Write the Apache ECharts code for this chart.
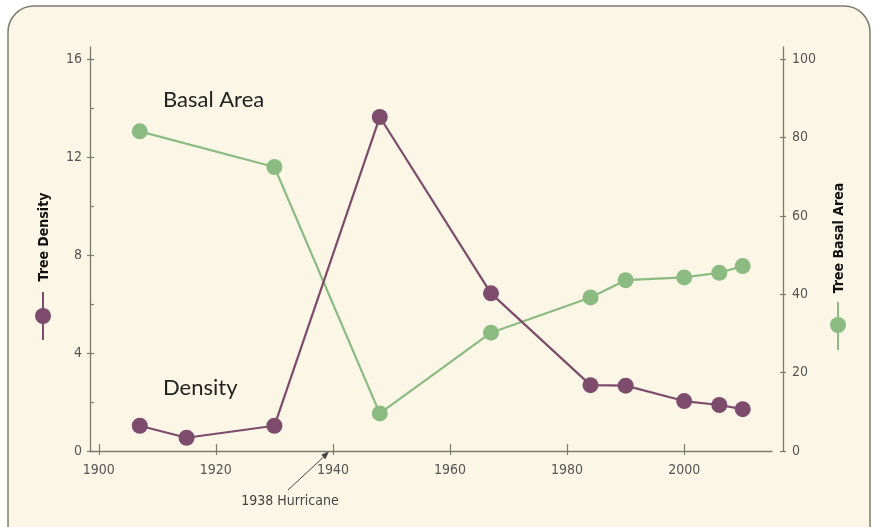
<!DOCTYPE html>
<html>
<head>
<meta charset="utf-8">
<script src="https://cdn.jsdelivr.net/npm/echarts@6/dist/echarts.min.js"></script>
<style>
html,body{margin:0;padding:0;background:#ffffff;}
#chart{width:875px;height:527px;}
</style>
</head>
<body>
<div id="chart"></div>
<script>
// Data
const densityYears = [1907, 1915, 1930, 1948, 1967, 1984, 1990, 2000, 2006, 2010];
const densityValues = [1.03, 0.54, 1.03, 13.64, 6.44, 2.69, 2.67, 2.04, 1.88, 1.71];
const basalYears = [1907, 1930, 1948, 1967, 1984, 1990, 2000, 2006, 2010];
const basalValues = [81.6, 72.5, 9.6, 30.2, 39.2, 43.6, 44.3, 45.5, 47.2];
const xTicks = [1900, 1920, 1940, 1960, 1980, 2000];
const leftTicks = [0, 4, 8, 12, 16];
const leftMinorTicks = [0, 2, 4, 6, 8, 10, 12, 14, 16];
const rightTicks = [0, 20, 40, 60, 80, 100];

const PURPLE = '#7d4b6b';
const GREEN = '#8bbb81';
const AXIS = '#7b7b6c';
const LABEL = '#555555';
const NARROW = '"Liberation Sans Narrow", "DejaVu Sans Condensed", "Roboto Condensed", sans-serif';
const REG = 'Lato, "Open Sans", sans-serif';

const chart = echarts.init(document.getElementById('chart'));

const lbl = {color: LABEL, fontFamily: NARROW, fontSize: 14, formatter: v => String(v)};

const option = {
  backgroundColor: '#ffffff',
  animation: false,
  grid: {left: 90, right: 103, top: 47, bottom: 76, containLabel: false},
  xAxis: [
    {
      type: 'value', min: 1898.5, max: 2015, position: 'bottom',
      axisLine: {show: true, lineStyle: {color: AXIS, width: 1.3}},
      axisTick: {show: true, inside: false, length: 4, customValues: xTicks, lineStyle: {color: AXIS, width: 1.2}},
      axisLabel: Object.assign({margin: 12, customValues: xTicks}, lbl),
      splitLine: {show: false}
    },
    {
      type: 'value', min: 1898.5, max: 2015, position: 'bottom',
      axisLine: {show: false},
      axisTick: {show: true, inside: true, length: 7, customValues: xTicks, lineStyle: {color: AXIS, width: 1.2}},
      axisLabel: {show: false},
      splitLine: {show: false}
    }
  ],
  yAxis: [
    {
      type: 'value', min: 0, max: 16.5, position: 'left',
      axisLine: {show: true, lineStyle: {color: AXIS, width: 1.3}},
      axisTick: {show: true, inside: false, length: 3, customValues: leftTicks, lineStyle: {color: AXIS, width: 1.2}},
      axisLabel: Object.assign({margin: 8, customValues: leftTicks}, lbl),
      splitLine: {show: false}
    },
    {
      type: 'value', min: 0, max: 103.125, position: 'right', offset: 11,
      axisLine: {show: true, lineStyle: {color: AXIS, width: 1.3}},
      axisTick: {show: true, inside: false, length: 3, customValues: rightTicks, lineStyle: {color: AXIS, width: 1.2}},
      axisLabel: Object.assign({margin: 9, customValues: rightTicks}, lbl),
      splitLine: {show: false}
    },
    {
      type: 'value', min: 0, max: 16.5, position: 'left',
      axisLine: {show: false},
      axisTick: {show: true, inside: true, length: 4, customValues: leftMinorTicks, lineStyle: {color: AXIS, width: 1.2}},
      axisLabel: {show: false},
      splitLine: {show: false}
    },
    {
      type: 'value', min: 0, max: 103.125, position: 'right', offset: 11,
      axisLine: {show: false},
      axisTick: {show: true, inside: true, length: 3, customValues: rightTicks, lineStyle: {color: AXIS, width: 1.2}},
      axisLabel: {show: false},
      splitLine: {show: false}
    }
  ],
  series: [
    {
      name: 'Basal Area', type: 'line', xAxisIndex: 0, yAxisIndex: 1,
      data: basalYears.map((y, i) => [y, basalValues[i]]),
      symbol: 'circle', symbolSize: 16,
      lineStyle: {color: GREEN, width: 2.2},
      itemStyle: {color: GREEN},
      z: 3
    },
    {
      name: 'Density', type: 'line', xAxisIndex: 0, yAxisIndex: 0,
      data: densityYears.map((y, i) => [y, densityValues[i]]),
      symbol: 'circle', symbolSize: 16,
      lineStyle: {color: PURPLE, width: 2.2},
      itemStyle: {color: PURPLE},
      z: 4
    }
  ],
  graphic: [
    {type: 'rect', z: -100, silent: true,
     shape: {x: 8, y: 6, width: 862, height: 570, r: 26},
     style: {fill: '#fcf6e6', stroke: '#7e7e70', lineWidth: 1.5}},
    {type: 'text', x: 163, y: 100, style: {text: 'Basal Area', fill: '#222222', font: '22px ' + REG, textAlign: 'left', textVerticalAlign: 'middle'}},
    {type: 'text', x: 163, y: 388, style: {text: 'Density', fill: '#222222', font: '22px ' + REG, textAlign: 'left', textVerticalAlign: 'middle'}},
    {type: 'text', x: 44, y: 237, rotation: Math.PI / 2,
     style: {text: 'Tree Density', fill: '#111111', font: 'bold 14px ' + NARROW, textAlign: 'center', textVerticalAlign: 'middle'}},
    {type: 'line', shape: {x1: 43, y1: 292, x2: 43, y2: 340}, style: {stroke: PURPLE, lineWidth: 2}},
    {type: 'circle', shape: {cx: 43, cy: 316, r: 8}, style: {fill: PURPLE}},
    {type: 'text', x: 839, y: 238, rotation: Math.PI / 2,
     style: {text: 'Tree Basal Area', fill: '#111111', font: 'bold 14px ' + NARROW, textAlign: 'center', textVerticalAlign: 'middle'}},
    {type: 'line', shape: {x1: 838, y1: 302, x2: 838, y2: 350}, style: {stroke: GREEN, lineWidth: 2}},
    {type: 'circle', shape: {cx: 838, cy: 325, r: 8}, style: {fill: GREEN}},
    {type: 'line', shape: {x1: 288, y1: 490, x2: 325, y2: 455.7}, style: {stroke: '#444444', lineWidth: 1}},
    {type: 'polygon', shape: {points: [[329.3, 451], [325.3, 459.2], [321.3, 454.8]]}, style: {fill: '#444444'}},
    {type: 'text', x: 290, y: 501, style: {text: '1938 Hurricane', fill: '#444444', font: '14px ' + NARROW, textAlign: 'center', textVerticalAlign: 'middle'}}
  ]
};
chart.setOption(option);
</script>
</body>
</html>
